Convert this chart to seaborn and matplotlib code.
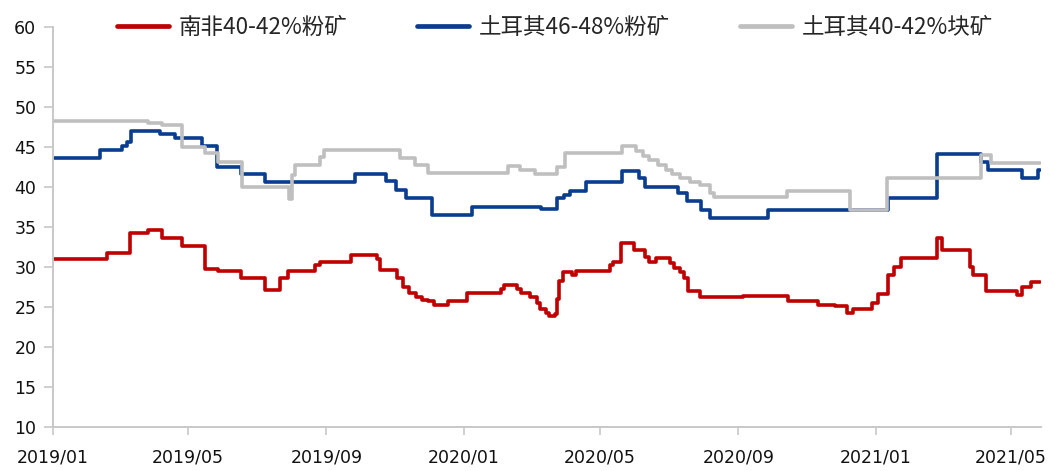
import matplotlib
matplotlib.use("Agg")
import matplotlib.pyplot as plt
import seaborn as sns
import pandas as pd

# ---------------- data ----------------
series_names = ["南非40-42%粉矿", "土耳其46-48%粉矿", "土耳其40-42%块矿"]
series_colors = ["#C00000", "#0A3D8F", "#BFBFBF"]

red_dates = [
    "2019-01-01", "2019-02-18", "2019-03-10", "2019-03-26", "2019-04-08", "2019-04-26",
    "2019-05-16", "2019-05-28", "2019-06-17", "2019-07-08", "2019-07-22", "2019-07-29",
    "2019-08-22", "2019-08-26", "2019-09-23", "2019-10-16", "2019-10-19", "2019-11-03",
    "2019-11-08", "2019-11-13", "2019-11-20", "2019-11-25", "2019-11-30", "2019-12-06",
    "2019-12-18", "2020-01-04", "2020-02-03", "2020-02-06", "2020-02-17", "2020-02-21",
    "2020-02-29", "2020-03-06", "2020-03-09", "2020-03-14", "2020-03-17", "2020-03-22",
    "2020-03-24", "2020-03-26", "2020-03-29", "2020-04-06", "2020-04-10", "2020-05-10",
    "2020-05-13", "2020-05-20", "2020-05-31", "2020-06-10", "2020-06-14", "2020-06-20",
    "2020-07-02", "2020-07-06", "2020-07-11", "2020-07-15", "2020-07-18", "2020-07-29",
    "2020-09-05", "2020-10-15", "2020-11-11", "2020-11-26", "2020-12-07", "2020-12-12",
    "2020-12-29", "2021-01-03", "2021-01-12", "2021-01-17", "2021-01-24", "2021-02-25",
    "2021-03-01", "2021-03-26", "2021-03-29", "2021-04-09", "2021-05-07", "2021-05-11",
    "2021-05-19", "2021-05-27",
]
red_values = [
    31.0, 31.7, 34.3, 34.6, 33.6, 32.6,
    29.8, 29.5, 28.6, 27.1, 28.6, 29.5,
    30.2, 30.6, 31.5, 31.0, 29.6, 28.6,
    27.5, 26.7, 26.3, 25.9, 25.7, 25.3,
    25.8, 26.8, 27.3, 27.8, 27.2, 26.8,
    26.3, 25.5, 24.7, 24.2, 23.9, 24.1,
    26.0, 28.2, 29.4, 29.0, 29.5, 30.2,
    30.6, 33.0, 32.1, 31.3, 30.6, 31.1,
    30.5, 29.9, 29.4, 28.6, 27.0, 26.3,
    26.4, 25.8, 25.3, 25.1, 24.3, 24.8,
    25.5, 26.6, 29.0, 30.0, 31.1, 33.6,
    32.1, 30.0, 29.0, 27.0, 26.5, 27.5,
    28.1, 28.1,
]

blue_dates = [
    "2019-01-01", "2019-02-12", "2019-03-03", "2019-03-08", "2019-03-11", "2019-04-06",
    "2019-04-19", "2019-05-13", "2019-05-27", "2019-06-17", "2019-07-08", "2019-09-26",
    "2019-10-24", "2019-11-02", "2019-11-11", "2019-12-04", "2020-01-08", "2020-03-10",
    "2020-03-24", "2020-03-30", "2020-04-04", "2020-04-19", "2020-05-21", "2020-06-05",
    "2020-06-10", "2020-07-09", "2020-07-17", "2020-07-30", "2020-08-07", "2020-09-27",
    "2021-01-12", "2021-02-25", "2021-04-05", "2021-04-11", "2021-05-11", "2021-05-25",
    "2021-05-27",
]
blue_values = [
    43.6, 44.6, 45.1, 45.6, 47.0, 46.6,
    46.1, 45.1, 42.5, 41.6, 40.6, 41.6,
    40.7, 39.6, 38.6, 36.5, 37.5, 37.3,
    38.6, 39.0, 39.5, 40.6, 42.0, 41.1,
    40.0, 39.2, 38.2, 37.1, 36.1, 37.1,
    38.6, 44.1, 43.1, 42.1, 41.1, 42.1,
    42.1,
]

gray_dates = [
    "2019-01-01", "2019-03-26", "2019-04-08", "2019-04-26", "2019-05-16", "2019-05-28",
    "2019-06-18", "2019-07-30", "2019-08-01", "2019-08-04", "2019-08-26", "2019-08-30",
    "2019-11-05", "2019-11-19", "2019-11-30", "2020-02-09", "2020-02-20", "2020-03-04",
    "2020-03-24", "2020-03-31", "2020-05-21", "2020-06-02", "2020-06-08", "2020-06-14",
    "2020-06-22", "2020-06-29", "2020-07-04", "2020-07-11", "2020-07-20", "2020-07-29",
    "2020-08-07", "2020-08-10", "2020-10-14", "2020-12-09", "2021-01-11", "2021-04-05",
    "2021-04-14", "2021-05-27",
]
gray_values = [
    48.3, 48.0, 47.8, 45.0, 44.3, 43.1,
    40.0, 38.5, 41.5, 42.7, 43.8, 44.6,
    43.6, 42.75, 41.75, 42.6, 42.1, 41.6,
    42.5, 44.2, 45.1, 44.5, 43.9, 43.4,
    42.75, 42.1, 41.6, 41.1, 40.6, 40.2,
    39.3, 38.8, 39.5, 37.1, 41.1, 44.0,
    43.0, 43.0,
]

x_tick_dates = ["2019-01-01", "2019-05-01", "2019-09-01", "2020-01-01",
                "2020-05-01", "2020-09-01", "2021-01-01", "2021-05-01"]
x_tick_labels = ["2019/01", "2019/05", "2019/09", "2020/01",
                 "2020/05", "2020/09", "2021/01", "2021/05"]
y_ticks = [10, 15, 20, 25, 30, 35, 40, 45, 50, 55, 60]

# ---------------- build long table ----------------
frames = []
for name, d, v in zip(series_names,
                      [red_dates, blue_dates, gray_dates],
                      [red_values, blue_values, gray_values]):
    frames.append(pd.DataFrame({"date": pd.to_datetime(d), "value": v, "series": name}))
df = pd.concat(frames, ignore_index=True)

# ---------------- plot ----------------
sns.set_style("ticks")
plt.rcParams["font.family"] = ["DejaVu Sans", "Noto Sans CJK SC"]

fig = plt.figure(figsize=(10.57, 4.71), dpi=100)
ax = fig.add_axes([53 / 1057, 1 - 427 / 471, (1041 - 53) / 1057, 400 / 471])

sns.lineplot(data=df, x="date", y="value", hue="series", hue_order=series_names,
             palette=dict(zip(series_names, series_colors)), estimator=None,
             drawstyle="steps-post", linewidth=2.6, ax=ax, legend=False)

ax.set_xlim(pd.Timestamp("2019-01-01"), pd.Timestamp("2021-05-28"))
ax.set_ylim(10, 60)
ax.set_yticks(y_ticks)
ax.set_yticklabels([str(t) for t in y_ticks])
ax.set_xticks(pd.to_datetime(x_tick_dates))
ax.set_xticklabels(x_tick_labels)
ax.set_xlabel("")
ax.set_ylabel("")

for side in ["top", "right"]:
    ax.spines[side].set_visible(False)
for side in ["left", "bottom"]:
    ax.spines[side].set_color("#C8C8C8")
    ax.spines[side].set_linewidth(1.4)
ax.tick_params(axis="y", length=6.5, width=1.2, color="#C8C8C8", pad=5.5,
               labelsize=12.5, labelcolor="#111111")
ax.tick_params(axis="x", length=6, width=1.2, color="#C8C8C8", pad=9.5,
               labelsize=12.5, labelcolor="#111111")

handles = [plt.Line2D([], [], color=c, linewidth=3.4, solid_capstyle="round")
           for c in series_colors]
fig.legend(handles, series_names, loc="center", bbox_to_anchor=(0.525, 0.942),
           ncol=3, frameon=False, handlelength=2.3, handletextpad=0.45,
           columnspacing=3.1, prop={"family": ["Noto Sans CJK SC", "DejaVu Sans"], "size": 16.2})

fig.savefig("out.png", dpi=100)
